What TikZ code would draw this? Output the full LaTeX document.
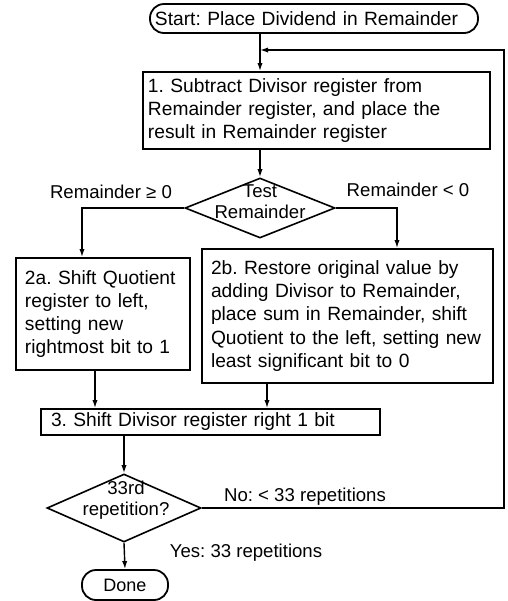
\documentclass[tikz,border=0pt]{standalone}
\usepackage{fontspec}
\setmainfont{Liberation Sans}
\usetikzlibrary{shapes.geometric,arrows.meta}
\frenchspacing

\begin{document}
\begin{tikzpicture}[x=0.5pt, y=-0.5pt,
	box/.style={draw, line width=0.9pt, rectangle, align=left, inner ysep=0pt, font=\fontsize{9.6}{11.6}\selectfont},
	term/.style={box, rounded corners=7pt},
	decision/.style={draw, diamond, line width=0.8pt, inner sep=0pt},
	dtext/.style={align=center, inner sep=0pt, font=\fontsize{9.3}{10.6}\selectfont},
	lbl/.style={inner sep=0pt, font=\fontsize{9.3}{11}\selectfont},
	conn/.style={line width=0.7pt, -{Latex[length=4pt, width=2.6pt]}}
]

\fill[white] (0, 0) rectangle (508, 601);

\node[term, text width=159pt, inner xsep=2.5pt, minimum height=14.5pt] (start) at (314, 18.5) {Start: Place Dividend in Remainder};
\node[box, text width=168.5pt, inner xsep=2.5pt, minimum height=38.5pt] (step1) at (316.5, 110.5) {1. Subtract Divisor register from\\Remainder register, and place the\\result in Remainder register};

\node[decision, minimum width=75pt, minimum height=30pt] (test) at (260, 208) {};
\node[dtext] (testtxt) at (260, 202) {Test\\Remainder};
\node[lbl] (ge) at (111, 192) {Remainder ≥ 0};
\node[lbl] (lt) at (408, 190) {Remainder < 0};

\node[box, text width=78pt, inner xsep=4.5pt, minimum height=56pt] (step2a) at (103, 314) {2a. Shift Quotient\\register to left,\\setting new\\rightmost bit to 1};
\node[box, text width=136.5pt, inner xsep=4.5pt, minimum height=67pt] (step2b) at (347.5, 316) {2b. Restore original value by\\adding Divisor to Remainder,\\place sum in Remainder, shift\\Quotient to the left, setting new\\least significant bit to 0};

\node[box, text width=159.5pt, inner xsep=5pt, minimum height=13pt] (step3) at (210.5, 422) {3. Shift Divisor register right 1 bit};

\node[decision, minimum width=77pt, minimum height=34pt] (rep) at (124, 508) {};
\node[dtext] (reptxt) at (126, 500) {33rd\\repetition?};
\node[lbl] (no) at (305, 497) {No: < 33 repetitions};
\node[lbl] (yes) at (246, 553) {Yes: 33 repetitions};

\node[term, inner sep=0pt, minimum width=43pt, minimum height=15pt, font=\fontsize{9}{10}\selectfont] (done) at (125, 585) {Done};

\draw[conn] (start.south -| test.north) -- (step1.north -| test.north);
\draw[conn] (step1.south -| test.north) -- (test.north);
\draw[conn] (test.west) -| ([xshift=-10.5pt]step2a.north);
\draw[conn] (test.east) -| ([xshift=24.75pt]step2b.north);
\draw[conn] ([xshift=-4pt]step2a.south) -- ([xshift=-4pt]step2a.south |- step3.north);
\draw[conn] ([xshift=-40.25pt]step2b.south) -- ([xshift=-40.25pt]step2b.south |- step3.north);
\draw[conn] (step3.south -| rep.north) -- (rep.north);
\draw[conn] (rep.south) -- (done.north);

\coordinate (back) at (504, 50);
\draw[conn] (rep.east) -| (back) -- (back -| test.north);

\end{tikzpicture}
\end{document}
